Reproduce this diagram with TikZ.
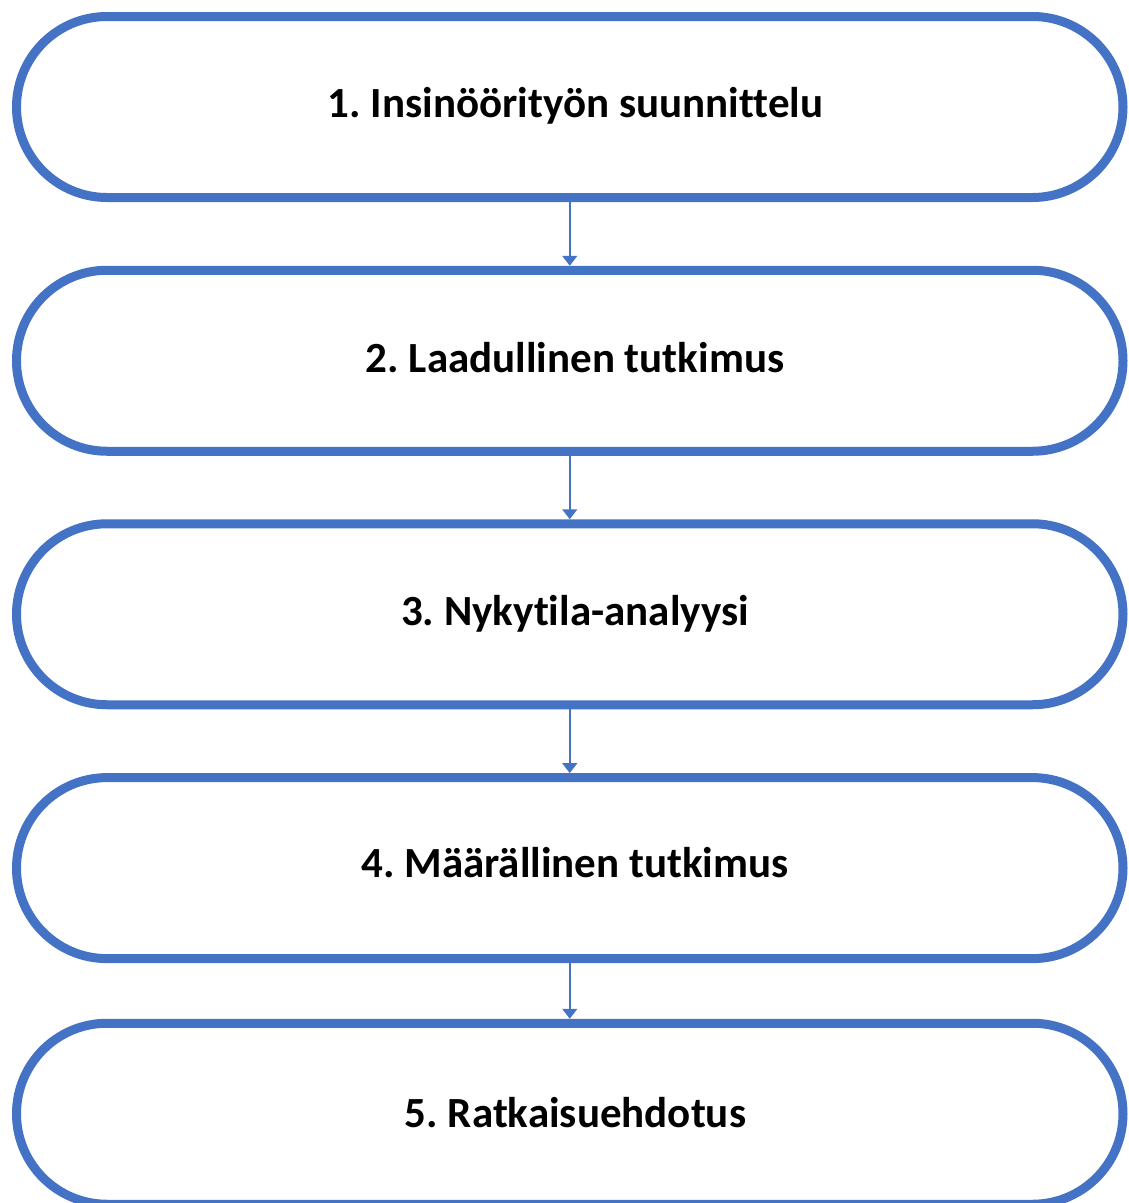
\documentclass[tikz,border=0pt]{standalone}
\usepackage{fontspec}
\setmainfont{Carlito}[Ligatures={NoCommon}]
\usetikzlibrary{arrows.meta}
\definecolor{boxblue}{HTML}{4472C4}
\frenchspacing
\begin{document}
\begin{tikzpicture}[x=1pt,y=-1pt,
  stagebox/.style={draw=boxblue, line width=9pt, fill=white, minimum width=1106.5pt, minimum height=181pt, rounded corners=90.5pt, inner sep=0pt},
  stagelabel/.style={anchor=base, font=\fontsize{43pt}{48pt}\selectfont\bfseries, inner sep=0pt, text=black},
  flowarrow/.style={draw=boxblue, line width=1.5pt, -{Triangle[width=15pt,length=10pt]}}]
\useasboundingbox (0,0) rectangle (1129,1203);
\node[stagebox] (b1) at (569.75,107) {};
\node[stagebox] (b2) at (569.75,360.75) {};
\node[stagebox] (b3) at (569.75,614.25) {};
\node[stagebox] (b4) at (569.75,868.1) {};
\node[stagebox] (b5) at (569.75,1113.75) {};
\node[stagelabel] (t1) at (575.5,117.2) {1. Insinöörityön suunnittelu};
\node[stagelabel] (t2) at (575,372.2) {2. Laadullinen tutkimus};
\node[stagelabel] (t3) at (575,625.5) {3. Nykytila-analyysi};
\node[stagelabel] (t4) at (575,877.2) {4. Määrällinen tutkimus};
\node[stagelabel] (t5) at (575.5,1127.2) {5. Ratkaisuehdotus};
\draw[flowarrow] (b1.south) -- (b2.north);
\draw[flowarrow] (b2.south) -- (b3.north);
\draw[flowarrow] (b3.south) -- (b4.north);
\draw[flowarrow] (b4.south) -- (b5.north);
\end{tikzpicture}
\end{document}
